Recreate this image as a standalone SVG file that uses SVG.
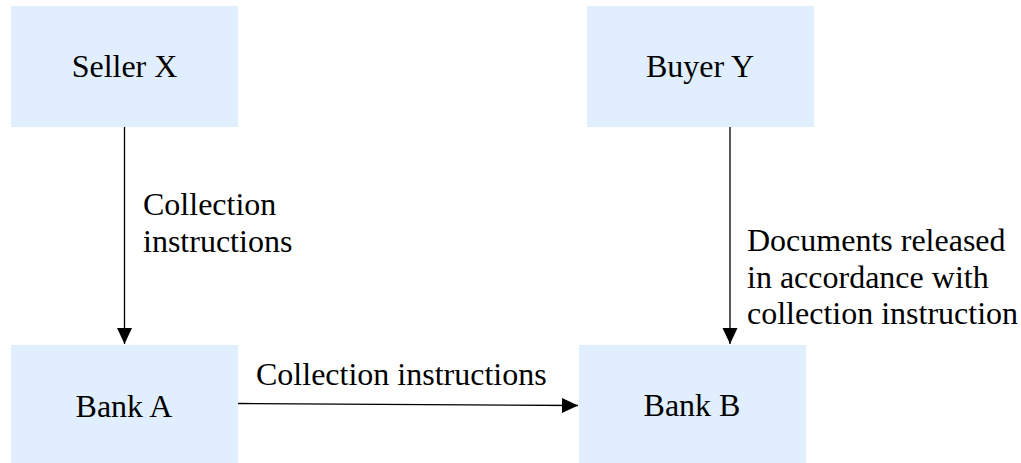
<svg xmlns="http://www.w3.org/2000/svg" width="1021" height="463" viewBox="0 0 1021 463">
<style>
.box{fill:#e1eefd}
.t{font-family:'Liberation Serif','Times New Roman',serif;font-size:32px;fill:#000}
.c{text-anchor:middle}
.ln{stroke:#000;stroke-width:1.3;fill:none;marker-end:url(#ah)}
</style>
<defs>
<marker id="ah" viewBox="0 0 16 16" refX="16" refY="8" markerWidth="16" markerHeight="16" markerUnits="userSpaceOnUse" orient="auto">
<path d="M0,0.5 L16,8 L0,15.5 Z" fill="#000"/>
</marker>
</defs>
<g id="seller-x"><rect class="box" x="11" y="6" width="227" height="121"/><text class="t c" x="124.5" y="77">Seller X</text></g>
<g id="buyer-y"><rect class="box" x="587" y="6" width="227" height="121"/><text class="t c" x="700" y="77">Buyer Y</text></g>
<g id="bank-a"><rect class="box" x="11" y="345" width="227" height="118"/><text class="t c" x="124" y="417">Bank A</text></g>
<g id="bank-b"><rect class="box" x="579" y="345" width="227" height="118"/><text class="t c" x="692" y="416">Bank B</text></g>
<g id="connectors">
<line class="ln" x1="124.5" y1="127" x2="124.5" y2="344"/>
<line class="ln" x1="730" y1="127" x2="730" y2="344"/>
<line class="ln" x1="238" y1="403.5" x2="578" y2="405.5"/>
<text class="t" x="143" y="215">Collection</text>
<text class="t" x="143" y="252">instructions</text>
<text class="t" x="747" y="251">Documents released</text>
<text class="t" x="747" y="288">in accordance with</text>
<text class="t" x="747" y="324">collection instruction</text>
<text class="t" x="256" y="385">Collection instructions</text>
</g>
</svg>
